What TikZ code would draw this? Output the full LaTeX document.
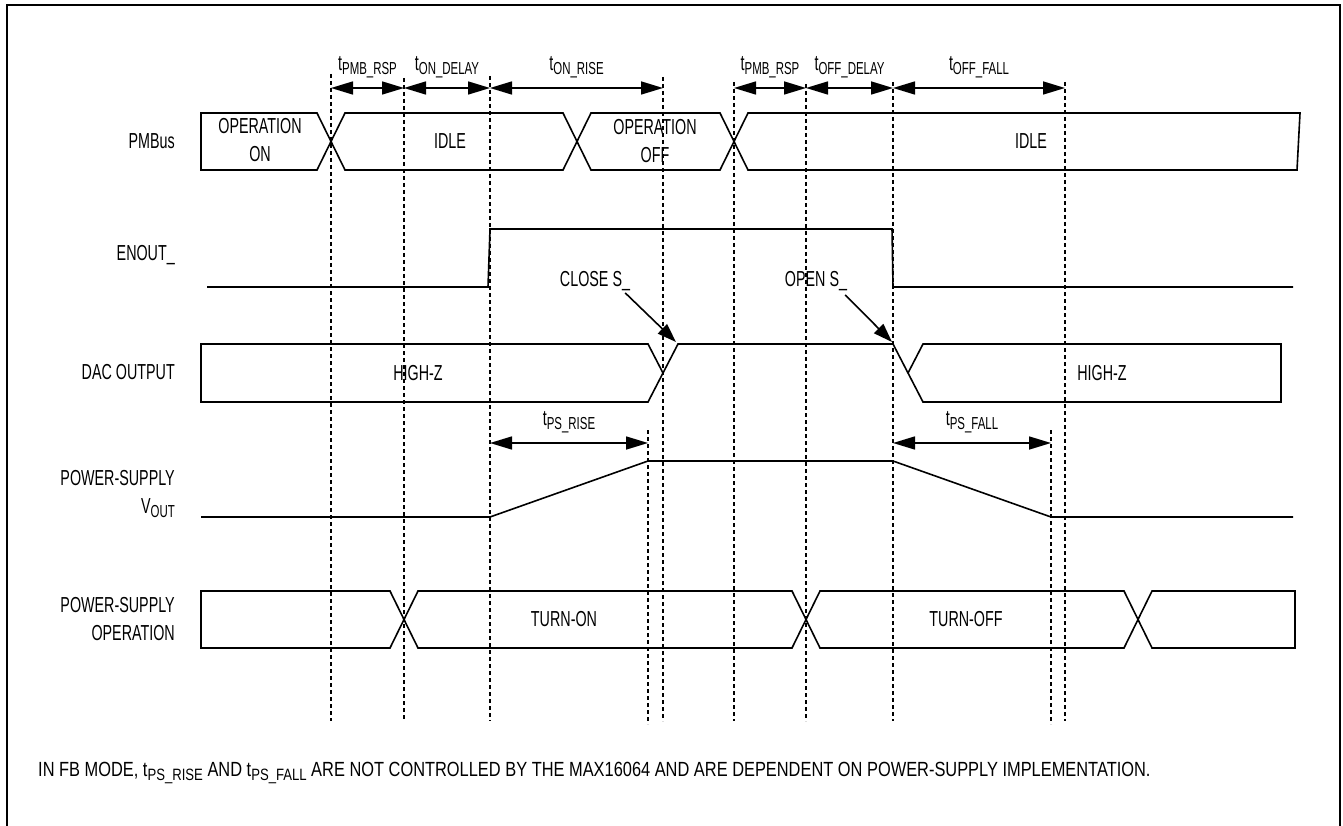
\documentclass[tikz,border=0pt]{standalone}
\usepackage{fontspec}
\setmainfont{Liberation Sans}[FakeStretch=0.66]
\newfontfamily\notefamily{Liberation Sans}[FakeStretch=0.80]
\usetikzlibrary{arrows.meta}

\newcommand{\lblfont}{\fontsize{21.7}{28}\selectfont}
\newcommand{\notefont}{\notefamily\fontsize{20.5}{22}\selectfont}
\newcommand{\tsub}[1]{t\raisebox{-0.35ex}{\scalebox{0.8}{#1}}}

\begin{document}
\begin{tikzpicture}[x=1pt, y=-1pt,
  frame/.style   = {line width=2.4pt},
  wave/.style    = {line width=1.6pt, line join=miter},
  tline/.style   = {line width=1.2pt, dash pattern=on 4pt off 3pt},
  span/.style    = {line width=1.6pt,
                    {Triangle[length=22pt,width=13pt]}-{Triangle[length=22pt,width=13pt]}},
  pointer/.style = {line width=1.6pt, -{Triangle[length=19pt,width=13pt]}},
  signal/.style  = {anchor=east, align=right, inner sep=0pt, font=\lblfont},
  state/.style   = {align=center, inner sep=0pt, font=\lblfont},
  tlbl/.style    = {inner sep=0pt, font=\lblfont},
]
\useasboundingbox (0,0) rectangle (1343,826);

% frame, open at the bottom
\draw[frame] (7,826) -- (7,5) -- (1340,5) -- (1340,826);

% time marks
\foreach \n/\x/\y/\e in {a/331/74/721, b/404/78/721, c/490/76/721, d/648/430/724,
                         e/663/77/721, f/734/82/721, g/806/84/721, h/893/82/721,
                         i/1051/430/724, j/1065/82/721}
  \draw[tline] (\x,\y) coordinate (top\n) -- (\x,\e) coordinate (bot\n);

% intervals
\foreach \a/\b/\n/\s in {a/b/1/PMB\_RSP, b/c/2/ON\_DELAY, c/e/3/ON\_RISE,
                         f/g/4/PMB\_RSP, g/h/5/OFF\_DELAY, h/j/6/OFF\_FALL}
  \draw[span] (top\a |- 0,88) -- node[tlbl, above=9pt] (span\n) {\tsub{\s}} (top\b |- 0,88);
\draw[span] (topc |- 0,443) -- node[tlbl, above=9pt] (psrise) {\tsub{PS\_RISE}} (topd |- 0,443);
\draw[span] (toph |- 0,443) -- node[tlbl, above=9pt] (psfall) {\tsub{PS\_FALL}} (topi |- 0,443);

% signal names
\node[signal] (pmbus) at (175,141) {PMBus};
\node[signal] (enout) at (175,255) {ENOUT\_};
\node[signal] (dac)   at (175,372) {DAC OUTPUT};
\node[signal] (vout)  at (175,494) {POWER-SUPPLY\\V\raisebox{-0.35ex}{\scalebox{0.8}{OUT}}};
\node[signal] (psop)  at (175,619) {POWER-SUPPLY\\OPERATION};

% PMBus
\draw[wave] (201,113) -- (317,113) -- (345,170) -- (563,170) -- (591,113) -- (720,113)
  -- (748,170) -- (1297,170) -- (1300,113) -- (748,113) -- (720,170) -- (591,170)
  -- (563,113) -- (345,113) -- (317,170) -- (201,170) -- cycle;
\node[state] (opon)  at (260,140) {OPERATION\\ON};
\node[state] (idle1) at (450,141) {IDLE};
\node[state] (opoff) at (655,141) {OPERATION\\OFF};
\node[state] (idle2) at (1031,141) {IDLE};

% ENOUT_
\draw[wave] (207,287) -- (488,287) -- (490,229) -- (892,229) -- (893,287) -- (1293,287);

% DAC output
\draw[wave] (663,373) -- (648,344) -- (201,344) -- (201,402) -- (648,402) -- (678,344)
  -- (893,344) -- (923,402) -- (1281,402) -- (1281,344) -- (923,344) -- (908,373);
\node[state] (hiz1) at (418,373) {HIGH-Z};
\node[state] (hiz2) at (1102,373) {HIGH-Z};
\coordinate (dacon)  at (676,342);
\coordinate (dacoff) at (892,342);
\node[tlbl] (close) at (595,281) {CLOSE S\_};
\node[tlbl] (open)  at (816,281) {OPEN S\_};
\draw[pointer] ([xshift=-5pt,yshift=-2pt]close.south east) -- (dacon);
\draw[pointer] ([xshift=-2pt,yshift=-4pt]open.south east) -- (dacoff);

% supply output
\draw[wave] (201,517) -- (490,517) -- (648,461) -- (893,461) -- (1051,517) -- (1293,517);

% supply operation
\draw[wave] (201,591) -- (390,591) -- (418,648) -- (792,648) -- (820,591) -- (1124,591)
  -- (1152,648) -- (1295,648) -- (1295,591) -- (1152,591) -- (1124,648) -- (820,648)
  -- (792,591) -- (418,591) -- (390,648) -- (201,648) -- cycle;
\node[state] (turnon)  at (564,619) {TURN-ON};
\node[state] (turnoff) at (966,619) {TURN-OFF};

\node[anchor=west, inner sep=0pt, font=\notefont] (note) at (38,773)
  {IN FB MODE, \tsub{PS\_RISE} AND \tsub{PS\_FALL} ARE NOT CONTROLLED BY THE MAX16064 AND ARE DEPENDENT ON POWER-SUPPLY IMPLEMENTATION.};
\end{tikzpicture}
\end{document}
